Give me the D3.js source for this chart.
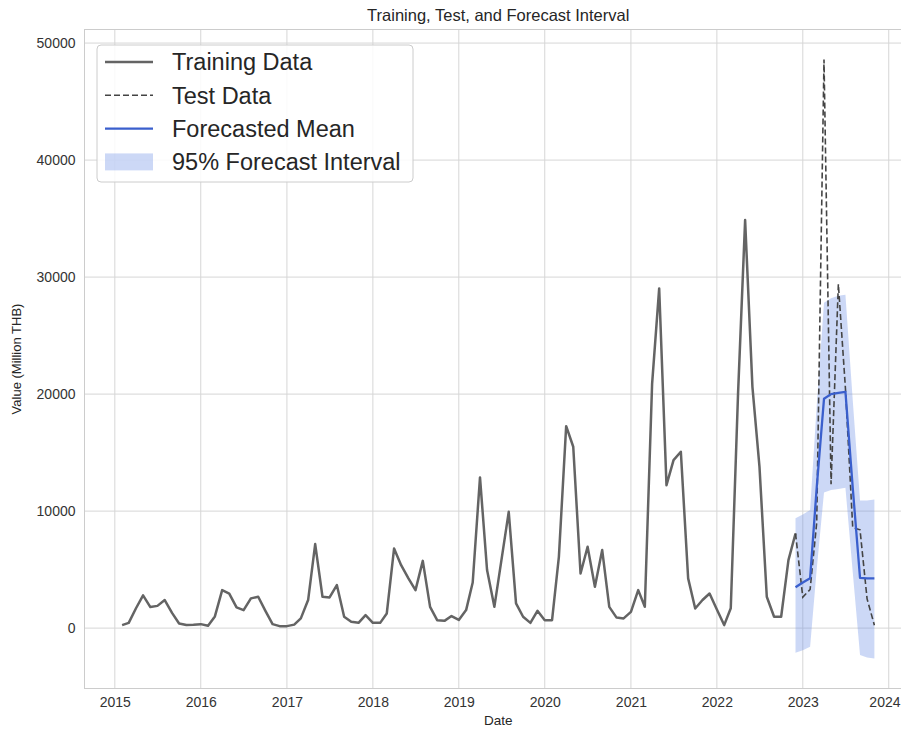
<!DOCTYPE html>
<html>
<head>
<meta charset="utf-8">
<script src="https://cdn.jsdelivr.net/npm/d3@7"></script>
<style>
  html, body { margin: 0; padding: 0; background: #ffffff; }
  svg { display: block; font-family: "Liberation Sans", Arial, sans-serif; }
</style>
</head>
<body>
<svg id="chart" width="901" height="729"></svg>
<script>
// Monthly export values (million THB)
const trainStart = [2015, 1]; // Feb 2015 (month index 1)
const trainValues = [
  260, 450, 1700, 2800, 1800, 1900, 2400, 1300, 400, 260, 280,            // 2015 Feb-Dec
  340, 200, 1000, 3250, 2950, 1770, 1540, 2540, 2680, 1500, 340, 170,     // 2016
  170, 300, 830, 2400, 7180, 2680, 2620, 3680, 970, 540, 450, 1110,       // 2017
  450, 450, 1250, 6800, 5380, 4250, 3250, 5750, 1820, 680, 620, 1030,     // 2018
  700, 1540, 3900, 12880, 4960, 1820, 5810, 9940, 2110, 970, 450, 1480,   // 2019
  680, 680, 6090, 17260, 15500, 4670, 6950, 3530, 6670, 1820, 900, 830,   // 2020
  1390, 3250, 1820, 20900, 29030, 12220, 14360, 15070, 4250, 1680, 2400, 2960, // 2021
  1600, 260, 1700, 20060, 34870, 20620, 13780, 2680, 970, 970, 5810, 8090  // 2022
];

const forecastStart = [2022, 11]; // Dec 2022
const testValues  = [8090, 2650, 3300, 9000, 48600, 12300, 29400, 20500, 8600, 8400, 2500, 250];
const meanValues  = [3500, 3900, 4270, 12000, 19600, 20000, 20100, 20200, 12000, 4300, 4250, 4250];
const upperValues = [9400, 9700, 10100, 19000, 27800, 28200, 28400, 28500, 19500, 10900, 10900, 11000];
const lowerValues = [-2100, -1900, -1600, 5000, 11600, 11800, 11900, 12000, 4800, -2300, -2500, -2600];

const legendLabels = ["Training Data", "Test Data", "Forecasted Mean", "95% Forecast Interval"];

const monthDate = (start, i) => new Date(start[0], start[1] + i, 1);
const train = trainValues.map((v, i) => ({ date: monthDate(trainStart, i), value: v }));
const fc = testValues.map((v, i) => ({
  date: monthDate(forecastStart, i),
  test: v, mean: meanValues[i], upper: upperValues[i], lower: lowerValues[i]
}));

const W = 901;
const svg = d3.select("#chart");
const plot = { left: 84.5, top: 29.5, right: 912, bottom: 688.5 };

// Axis limits padded by 5% on each side
const allDates = train.map(d => d.date).concat(fc.map(d => d.date));
const [d0, d1] = d3.extent(allDates);
const dPad = (d1 - d0) * 0.05;
const x = d3.scaleTime()
  .domain([new Date(+d0 - dPad), new Date(+d1 + dPad)])
  .range([plot.left, plot.right]);

const allVals = trainValues.concat(testValues, upperValues, lowerValues);
const [v0, v1] = d3.extent(allVals);
const vPad = (v1 - v0) * 0.05;
const y = d3.scaleLinear()
  .domain([v0 - vPad, v1 + vPad])
  .range([plot.bottom, plot.top]);

svg.append("defs").append("clipPath").attr("id", "clip")
  .append("rect")
  .attr("x", plot.left).attr("y", plot.top)
  .attr("width", plot.right - plot.left).attr("height", plot.bottom - plot.top);

// Grid
const gridColor = "#d6d6d6";
const yTicks = [0, 10000, 20000, 30000, 40000, 50000];
const xTicks = d3.range(2015, 2025).map(yr => new Date(yr, 0, 1));

const grid = svg.append("g").attr("clip-path", "url(#clip)");
grid.selectAll("line.gy").data(yTicks).join("line")
  .attr("x1", plot.left).attr("x2", plot.right)
  .attr("y1", d => y(d)).attr("y2", d => y(d))
  .attr("stroke", gridColor).attr("stroke-width", 1);
grid.selectAll("line.gx").data(xTicks).join("line")
  .attr("x1", d => x(d)).attr("x2", d => x(d))
  .attr("y1", plot.top).attr("y2", plot.bottom)
  .attr("stroke", gridColor).attr("stroke-width", 1);

// Frame
svg.append("rect")
  .attr("x", plot.left).attr("y", plot.top)
  .attr("width", plot.right - plot.left).attr("height", plot.bottom - plot.top)
  .attr("fill", "none").attr("stroke", "#cccccc").attr("stroke-width", 1);

// Axes (labels only, no tick marks)
const xAxis = d3.axisBottom(x).tickValues(xTicks).tickFormat(d3.timeFormat("%Y")).tickSize(0).tickPadding(9);
const gx = svg.append("g").attr("transform", `translate(0,${plot.bottom})`).call(xAxis);
const yAxis = d3.axisLeft(y).tickValues(yTicks).tickFormat(d3.format("d")).tickSize(0).tickPadding(9);
const gy = svg.append("g").attr("transform", `translate(${plot.left},0)`).call(yAxis);
[gx, gy].forEach(g => {
  g.select(".domain").remove();
  g.selectAll("text").attr("fill", "#333333").style("font-size", "14px")
    .style("font-family", "'Liberation Sans', Arial, sans-serif");
});
// keep the last year label inside the page
gx.selectAll(".tick").each(function(d) {
  const t = d3.select(this).select("text");
  const half = t.node().getComputedTextLength() / 2;
  const over = x(d) + half - (W - 1);
  if (over > 0) t.attr("dx", -over);
});

// Series
const series = svg.append("g").attr("clip-path", "url(#clip)");

series.append("path").datum(fc)
  .attr("d", d3.area().x(d => x(d.date)).y0(d => y(d.lower)).y1(d => y(d.upper)))
  .attr("fill", "#6d8fe6").attr("fill-opacity", 0.35);

series.append("path").datum(train)
  .attr("d", d3.line().x(d => x(d.date)).y(d => y(d.value)))
  .attr("fill", "none").attr("stroke", "#646464").attr("stroke-width", 2.5)
  .attr("stroke-linejoin", "round");

series.append("path").datum(fc)
  .attr("d", d3.line().x(d => x(d.date)).y(d => y(d.test)))
  .attr("fill", "none").attr("stroke", "#444444").attr("stroke-width", 1.6)
  .attr("stroke-dasharray", "6,3");

series.append("path").datum(fc)
  .attr("d", d3.line().x(d => x(d.date)).y(d => y(d.mean)))
  .attr("fill", "none").attr("stroke", "#3a5fcd").attr("stroke-width", 2.3)
  .attr("stroke-linejoin", "round");

// Titles
svg.append("text")
  .attr("x", (plot.left + plot.right) / 2).attr("y", 21)
  .attr("text-anchor", "middle").attr("fill", "#262626")
  .style("font-size", "16.5px")
  .text("Training, Test, and Forecast Interval");

svg.append("text")
  .attr("x", (plot.left + plot.right) / 2).attr("y", 725)
  .attr("text-anchor", "middle").attr("fill", "#262626")
  .style("font-size", "13.5px")
  .text("Date");

svg.append("text")
  .attr("transform", `translate(21,${(plot.top + plot.bottom) / 2}) rotate(-90)`)
  .attr("text-anchor", "middle").attr("fill", "#262626")
  .style("font-size", "13px")
  .text("Value (Million THB)");

// Legend
const lg = svg.append("g");
lg.append("rect")
  .attr("x", 97).attr("y", 45).attr("width", 316).attr("height", 137)
  .attr("rx", 4).attr("fill", "#ffffff").attr("fill-opacity", 0.85)
  .attr("stroke", "#cccccc").attr("stroke-width", 1);

const rowY = i => 62 + i * 33.3;
lg.append("line").attr("x1", 105).attr("x2", 153).attr("y1", rowY(0)).attr("y2", rowY(0))
  .attr("stroke", "#646464").attr("stroke-width", 2.5);
lg.append("line").attr("x1", 105).attr("x2", 153).attr("y1", rowY(1)).attr("y2", rowY(1))
  .attr("stroke", "#444444").attr("stroke-width", 1.6).attr("stroke-dasharray", "6,3");
lg.append("line").attr("x1", 105).attr("x2", 153).attr("y1", rowY(2)).attr("y2", rowY(2))
  .attr("stroke", "#3a5fcd").attr("stroke-width", 2.3);
lg.append("rect").attr("x", 105).attr("y", rowY(3) - 8.5).attr("width", 48).attr("height", 17)
  .attr("fill", "#6d8fe6").attr("fill-opacity", 0.35);

lg.selectAll("text.lab").data(legendLabels).join("text")
  .attr("x", 172).attr("y", (d, i) => rowY(i))
  .attr("dy", "0.36em").attr("fill", "#262626")
  .style("font-size", "23.5px")
  .text(d => d);
</script>
</body>
</html>
